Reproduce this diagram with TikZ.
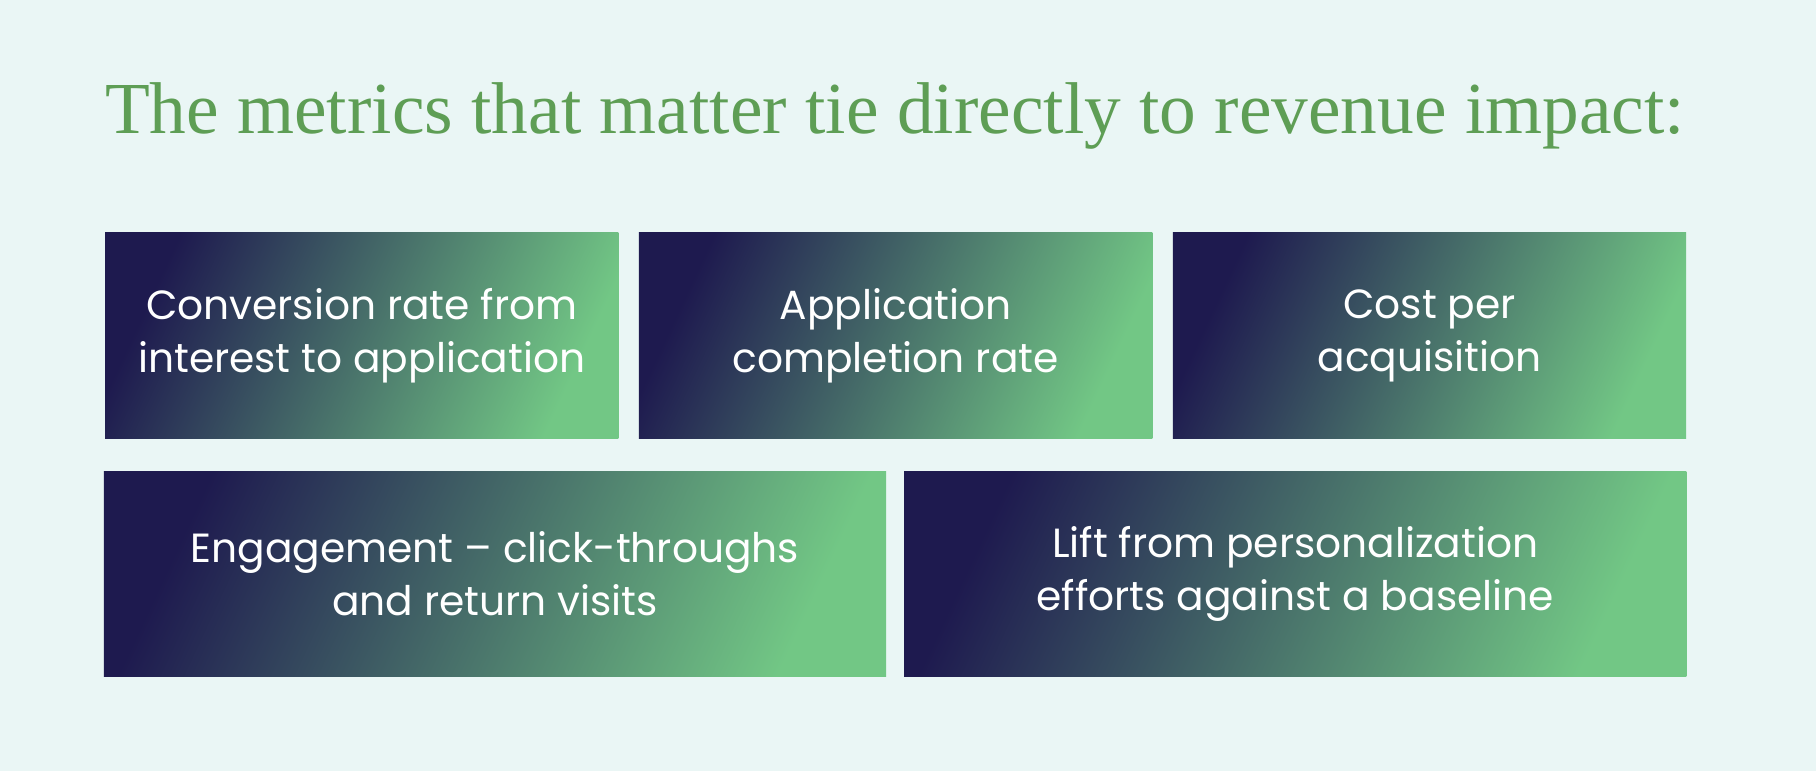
\documentclass[tikz,border=0pt]{standalone}
\usepackage{fontspec}
\setmainfont{Liberation Serif}
\newfontfamily\boxfont{Poppins}
\usetikzlibrary{positioning}
\definecolor{bgmint}{HTML}{EAF6F5}
\definecolor{titlegreen}{HTML}{5E9E55}
\definecolor{navy}{HTML}{1E1A4F}
\definecolor{leaf}{HTML}{72C785}
\begin{document}
\begin{tikzpicture}[x=0.01cm,y=-0.01cm,
metricbox/.style={rectangle, anchor=north west, inner sep=0pt, shading=axis, left color=navy, right color=leaf, shading angle=65, text=white, align=center, font=\boxfont\fontsize{10}{13}\selectfont},
smallbox/.style={metricbox, minimum width=4.43cm, minimum height=1.78cm},
widebox/.style={metricbox, minimum width=6.75cm, minimum height=1.77cm},
]
\fill[bgmint] (0,0) rectangle (1568,666);
\useasboundingbox (0,0) rectangle (1568,666);
%Title
\node[anchor=west, inner sep=0pt, text=titlegreen, font=\fontsize{18}{22}\selectfont] (title) at (90,100) {The metrics that matter tie directly to revenue impact:};

%Boxes
\node[smallbox] (conversion) at (90,200) {Conversion rate from\\interest to application};
\node[smallbox] (completion) at (551,200) {Application\\completion rate};
\node[smallbox] (cost) at (1012,200) {Cost per\\acquisition};
\node[widebox] (engagement) at (89,406) {Engagement \textendash\ click-throughs\\and return visits};
\node[widebox] (lift) at (780,406) {Lift from personalization\\efforts against a baseline};
\end{tikzpicture}
\end{document}
